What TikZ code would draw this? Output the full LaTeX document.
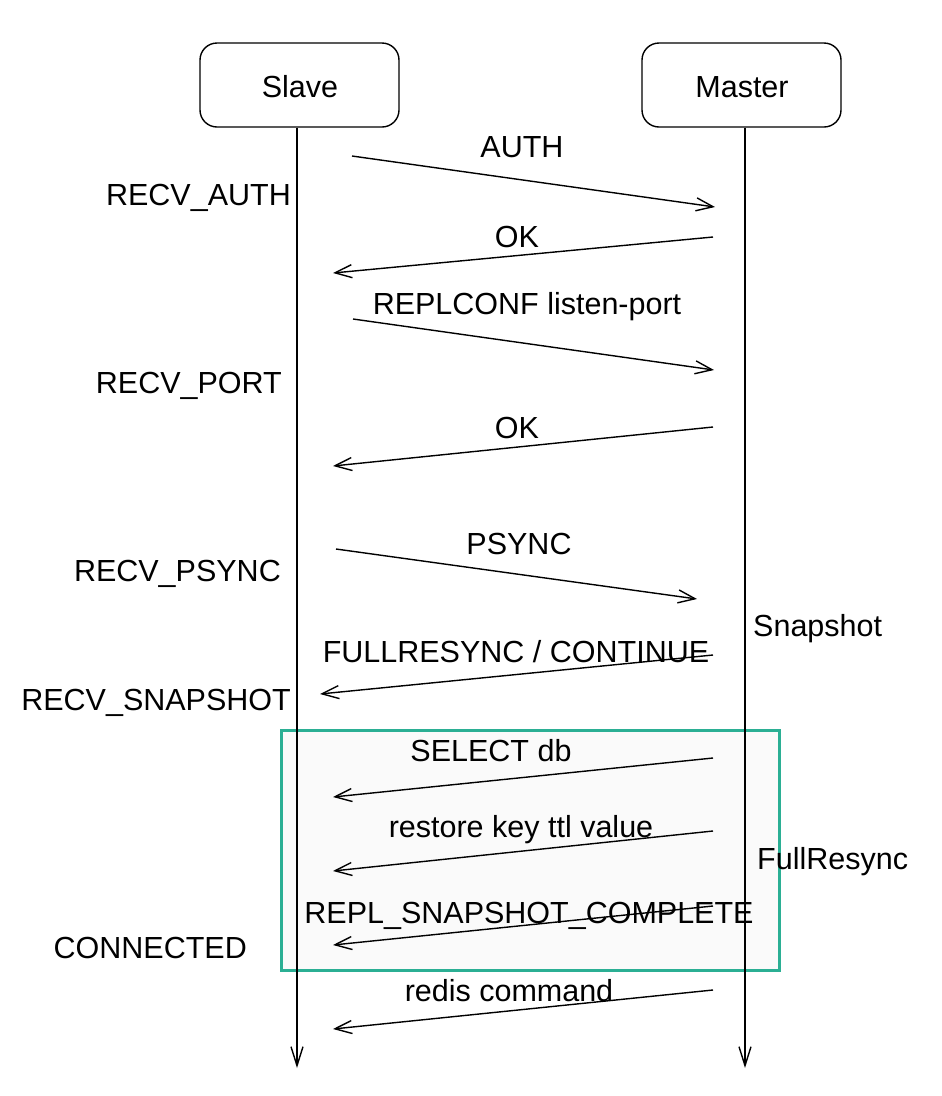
\documentclass[tikz,border=0pt]{standalone}
\usepackage{fontspec}
\setmainfont{Liberation Sans}
\usetikzlibrary{arrows.meta}
\definecolor{teal1}{HTML}{2BAF94}
\tikzset{
  actor/.style={draw, line width=1.4pt, rounded corners=17pt, minimum width=199pt, minimum height=84pt, inner sep=0pt},
  lbl/.style={inner sep=0pt, font=\fontsize{30.5}{35}\selectfont},
  msg/.style={line width=1.4pt, -{Straight Barb[length=17pt,width=13pt,line width=1.4pt]}},
  life/.style={line width=1.4pt, -{Straight Barb[length=19pt,width=12pt,line width=1.4pt]}},
  grp/.style={draw=teal1, line width=3pt, fill=black!2}
}
\begin{document}
\begin{tikzpicture}[x=1pt,y=-1pt]
\useasboundingbox (0,0) rectangle (942,1096);
% group box
\draw[grp] (281,730) rectangle (779,970);
% actors
\node[actor] (slave) at (299.5,85) {};
\node[actor] (master) at (741.5,85) {};
\node[lbl] (slaveT) at (300,87) {Slave};
\node[lbl] (masterT) at (742,87) {Master};
\coordinate (sEnd) at (297,1068);
\coordinate (mEnd) at (745,1068);
\draw[life] (slave.south -| sEnd) -- (sEnd);
\draw[life] (master.south -| mEnd) -- (mEnd);
% message endpoints
\coordinate (a1) at (352,156); \coordinate (b1) at (715,207);
\coordinate (a2) at (713,237); \coordinate (b2) at (333,273);
\coordinate (a3) at (353,319); \coordinate (b3) at (714,370);
\coordinate (a4) at (713,427); \coordinate (b4) at (333,466);
\coordinate (a5) at (336,549); \coordinate (b5) at (697,599);
\coordinate (a6) at (713,655); \coordinate (b6) at (320,694);
\coordinate (a7) at (713,758); \coordinate (b7) at (333,797);
\coordinate (a8) at (713,831); \coordinate (b8) at (333,871);
\coordinate (a9) at (713,906); \coordinate (b9) at (333,945);
\coordinate (a10) at (713,990); \coordinate (b10) at (333,1029);
\draw[msg] (a1) -- (b1);
\draw[msg] (a2) -- (b2);
\draw[msg] (a3) -- (b3);
\draw[msg] (a4) -- (b4);
\draw[msg] (a5) -- (b5);
\draw[msg] (a6) -- (b6);
\draw[msg] (a7) -- (b7);
\draw[msg] (a8) -- (b8);
\draw[msg] (a9) -- (b9);
\draw[msg] (a10) -- (b10);
% message labels
\node[lbl] (t1) at (522,147) {AUTH};
\node[lbl] (t2) at (517,237) {OK};
\node[lbl] (t3) at (527,307) {REPLCONF listen-port};
\node[lbl] (t4) at (517,428) {OK};
\node[lbl] (t5) at (519,544) {PSYNC};
\node[lbl] (t6) at (516,652) {FULLRESYNC / CONTINUE};
\node[lbl] (t7) at (491,751) {SELECT db};
\node[lbl] (t8) at (521,830) {restore key ttl value};
\node[lbl] (t9) at (529,916) {REPL\_SNAPSHOT\_COMPLETE};
\node[lbl] (t10) at (509,991) {redis command};
% state labels
\node[lbl, anchor=east] (s1) at (291,198) {RECV\_AUTH};
\node[lbl, anchor=east] (s2) at (282,386) {RECV\_PORT};
\node[lbl, anchor=east] (s3) at (281,574) {RECV\_PSYNC};
\node[lbl, anchor=east] (s4) at (291,703) {RECV\_SNAPSHOT};
\node[lbl, anchor=east] (s5) at (247,948) {CONNECTED};
\node[lbl, anchor=west] (r1) at (753,629) {Snapshot};
\node[lbl, anchor=west] (r2) at (757,862) {FullResync};
\end{tikzpicture}
\end{document}
